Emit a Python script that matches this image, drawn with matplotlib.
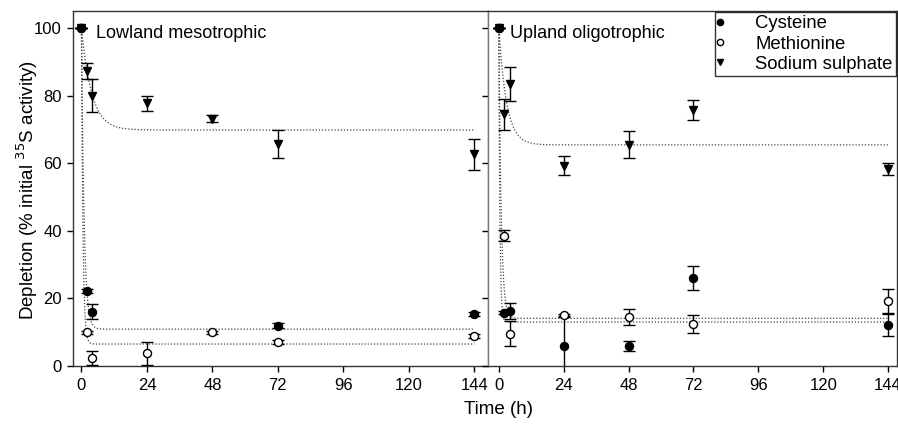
import matplotlib
matplotlib.use("Agg")
import matplotlib.pyplot as plt
import numpy as np
from matplotlib.lines import Line2D

plt.rcParams['font.family'] = ['Liberation Sans', 'DejaVu Sans']

# ---- data ----
time = np.array([0, 2, 4, 24, 48, 72, 144])

# Lowland mesotrophic
low_cys = np.array([100, 22.2, 16.1, np.nan, np.nan, 11.9, 15.5])
low_cys_err = np.array([0, 0.6, 2.2, 0, 0, 0.7, 0.6])
low_met = np.array([100, 10.0, 2.3, 3.8, 10.0, 7.1, 8.9])
low_met_err = np.array([0, 0.5, 2.1, 3.4, 0.5, 0.7, 0.5])
low_sul = np.array([100, 87.3, 80.0, 77.7, 73.1, 65.7, 62.6])
low_sul_err = np.array([0, 2.4, 4.8, 2.2, 1.0, 4.1, 4.5])

# Upland oligotrophic
up_cys = np.array([100, 15.8, 16.3, 5.9, 5.9, 26.1, 12.1])
up_cys_err = np.array([0, 0.5, 2.4, 9.0, 1.6, 3.5, 3.3])
up_met = np.array([100, 38.5, 9.6, 15.0, 14.6, 12.4, 19.3])
up_met_err = np.array([0, 1.6, 3.7, 0.5, 2.4, 2.6, 3.6])
up_sul = np.array([100, 74.4, 83.3, 59.3, 65.4, 75.7, 58.2])
up_sul_err = np.array([0, 4.6, 5.0, 2.7, 4.0, 2.9, 1.8])

# exponential decay fits: (plateau, rate)
low_fits = {'cys': (10.9, 1.03), 'met': (6.5, 1.8), 'sul': (69.8, 0.27)}
up_fits = {'cys': (13.0, 2.5), 'met': (14.1, 1.14), 'sul': (65.4, 0.35)}

W, H = 898, 434
fig = plt.figure(figsize=(W / 100, H / 100), dpi=100)
ax1 = fig.add_axes([73 / W, 1 - 366 / H, 415 / W, 355 / H])
ax2 = fig.add_axes([488 / W, 1 - 366 / H, 409 / W, 355 / H])

t_fit = np.linspace(0, 144, 2000)


def draw_panel(ax, cys, cys_err, met, met_err, sul, sul_err, fits, title, xlim, width_px):
    for key in ['cys', 'met', 'sul']:
        plateau, k = fits[key]
        curve = plateau + (100 - plateau) * np.exp(-k * t_fit)
        ax.plot(t_fit, curve, color='#444444', lw=0.9, ls=(0, (1, 1.5)), zorder=1)
    common = dict(ecolor='black', elinewidth=1, capsize=4, capthick=1, ls='none', zorder=3)
    ax.errorbar(time, sul, yerr=sul_err, marker='v', ms=6, mfc='black', mec='black', **common)
    ax.errorbar(time, met, yerr=met_err, marker='o', ms=5.8, mfc='white', mec='black', mew=1, **common)
    ax.errorbar(time, cys, yerr=cys_err, marker='o', ms=5.8, mfc='black', mec='black', **common)
    ax.set_xlim(*xlim)
    ax.set_ylim(0, 105)
    ax.set_xticks([0, 24, 48, 72, 96, 120, 144])
    ax.set_yticks([0, 20, 40, 60, 80, 100])
    ax.tick_params(direction='out', length=4, width=1, labelsize=12)
    ax.tick_params(axis='x', pad=5)
    ax.tick_params(axis='y', pad=4)
    ax.text(22.5 / width_px, 0.938, title, transform=ax.transAxes, fontsize=13,
            va='center', ha='left')
    for s in ax.spines.values():
        s.set_color('#333333')
        s.set_linewidth(1)


draw_panel(ax1, low_cys, low_cys_err, low_met, low_met_err, low_sul, low_sul_err,
           low_fits, 'Lowland mesotrophic', (-3.1, 149), 415)
draw_panel(ax2, up_cys, up_cys_err, up_met, up_met_err, up_sul, up_sul_err,
           up_fits, 'Upland oligotrophic', (-4, 147.3), 409)
ax2.set_yticklabels([])
ax1.spines['right'].set_color('#777777')
ax2.spines['left'].set_color('#777777')

fig.text(27.5 / W, 1 - 190 / H, 'Depletion (% initial $^{35}$S activity)', fontsize=13.5,
         rotation=90, ha='center', va='center')
fig.text(498 / W, 1 - 410 / H, 'Time (h)', fontsize=13.5, ha='center', va='center')

handles = [
    Line2D([], [], marker='o', ls='none', ms=4.5, mfc='black', mec='black'),
    Line2D([], [], marker='o', ls='none', ms=4.5, mfc='white', mec='black'),
    Line2D([], [], marker='v', ls='none', ms=4.5, mfc='black', mec='black'),
]
leg = ax2.legend(handles, ['Cysteine', 'Methionine', 'Sodium sulphate'],
                 loc='upper right', bbox_to_anchor=(1.0, 1.0), fontsize=13.3,
                 frameon=True, fancybox=False, borderpad=0.15, handletextpad=1.75,
                 labelspacing=0.18, handlelength=0.3, borderaxespad=0.08)
leg.get_frame().set_edgecolor('black')
leg.get_frame().set_linewidth(1)

fig.savefig('out.png', dpi=100)
